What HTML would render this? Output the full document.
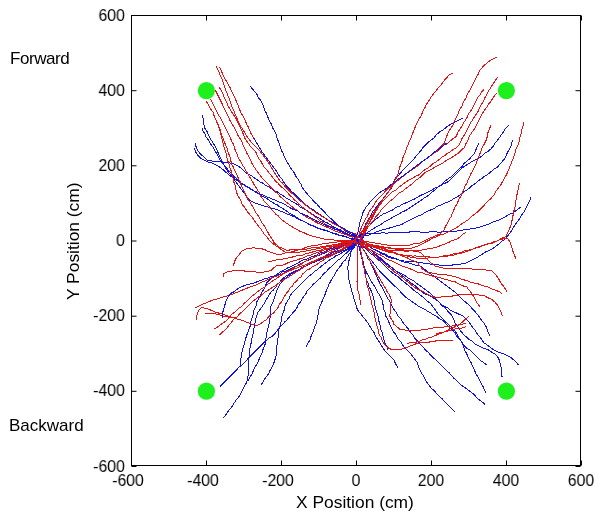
<!DOCTYPE html>
<html><head><meta charset="utf-8"><style>
html,body{margin:0;padding:0;background:#fff;width:601px;height:521px;overflow:hidden}
body{position:relative;font-family:"Liberation Sans",sans-serif;color:#000;-webkit-font-smoothing:antialiased}
.yl,.xl,.t{will-change:transform}
svg{position:absolute;left:0;top:0}
.yl{position:absolute;left:61px;width:64px;text-align:right;font-size:17px;line-height:18px;transform:scaleX(0.94);transform-origin:100% 50%}
.xl{position:absolute;top:471.5px;width:60px;text-align:center;font-size:17px;line-height:18px;transform:scaleX(0.93);transform-origin:50% 50%}
.b{stroke:#1212e0}.r{stroke:#e01212}
.t{position:absolute;white-space:nowrap;font-size:17px;line-height:20px}
</style></head><body>
<svg width="601" height="521" viewBox="0 0 601 521">
<g fill="none" stroke-width="1" shape-rendering="crispEdges">
<polyline class="b" points="253.4,137.6 256.3,142.4 259.2,147.2 262.1,152.0 265.0,155.8 267.8,159.7 270.7,163.5 273.6,167.3 276.5,171.2 279.3,176.0 281.7,178.8 283.5,181.7 285.2,184.6 287.5,186.9 289.8,189.2 291.8,191.8 294.4,193.8 296.7,196.1 299.0,198.4 301.3,200.7 303.6,203.0 308.0,206.5 310.6,208.4 313.5,209.9 316.0,212.0 319.0,214.0 321.9,216.1 325.1,218.0 328.1,220.2 331.7,221.7 334.6,224.0 337.9,225.9 341.2,227.7 344.2,230.0 346.9,231.9 349.6,233.3 352.3,234.4 355.0,235.7 357.1,237.7"/>
<polyline class="r" points="216.5,66.2 217.6,69.5 219.4,72.5 220.2,75.5 221.8,78.2 222.6,81.1 223.7,84.0 224.6,86.9 225.6,89.8 226.9,92.5 227.6,95.5 229.2,98.2 230.0,101.3 231.2,104.7 232.4,108.0 234.1,110.8 235.0,114.0 236.5,116.9 237.5,120.0 239.8,125.0 241.9,128.0 244.8,132.8 247.7,137.6 250.6,141.4 253.4,144.3 256.3,147.2 259.2,150.1 262.1,153.9 265.0,157.8 267.8,161.6 270.7,166.4 273.6,171.2 276.5,176.0 278.4,178.4 280.0,181.0 282.6,183.2 284.6,186.0 287.3,188.7 290.0,191.5 293.0,194.2 296.0,197.0 298.8,199.7 302.0,202.0 304.7,204.2 307.3,206.4 310.0,208.5 313.3,210.7 316.5,213.0 319.9,215.0 322.9,216.8 326.0,218.5 329.0,220.5 331.9,222.7 335.0,224.5 338.3,226.0 341.3,228.1 344.5,229.8 347.8,231.5 351.1,232.5 354.4,233.5 357.5,234.9"/>
<polyline class="b" points="249.8,86.0 252.5,88.9 255.0,92.0 257.1,94.5 258.3,97.5 260.3,100.0 262.1,103.4 263.8,106.9 264.8,110.3 266.5,113.4 267.7,116.7 269.2,120.7 271.5,124.4 272.7,127.9 274.4,131.1 276.3,134.8 277.3,138.8 278.9,142.6 280.1,146.5 281.2,150.0 283.0,153.2 285.0,158.0 287.5,162.7 289.2,165.5 290.9,168.4 294.4,173.0 295.7,176.1 297.8,178.8 299.3,181.7 301.1,184.4 302.2,187.5 304.6,190.7 307.2,193.7 309.1,196.4 311.6,198.6 313.5,201.2 316.9,204.1 319.7,207.5 323.0,210.5 326.0,213.7 329.0,217.1 332.6,220.0 335.8,223.3 339.3,226.2 342.8,227.8 345.9,230.0 349.4,231.6 352.7,233.5 356.1,235.5 359.1,238.0"/>
<polyline class="r" points="219.4,67.2 221.2,70.1 222.3,73.4 223.5,76.4 225.2,79.2 228.0,84.0 229.7,86.8 230.9,89.8 232.3,92.7 233.8,95.5 235.3,98.8 236.7,102.2 238.5,106.0 239.8,110.0 241.1,113.0 242.7,115.8 244.4,118.5 245.6,121.5 246.9,124.5 248.5,127.3 250.6,132.8 253.4,137.6"/>
<polyline class="b" points="195.6,142.5 196.0,146.4 197.5,150.2 200.4,154.0 204.2,157.0 207.1,160.0 210.7,160.9 216.5,161.5 222.2,162.1 228.0,162.7 233.8,163.8 238.4,166.1 241.8,168.7 244.8,171.9 247.8,173.7 250.9,175.4 253.7,177.5 256.7,179.2 259.3,181.5 262.5,183.0 265.3,185.1 268.5,186.5 271.3,188.5 274.0,190.6 277.3,191.9 280.1,194.0 283.1,195.8 285.9,197.9 289.0,199.5 291.9,201.4 295.1,202.9 297.8,205.0 300.5,207.2 303.8,208.5 306.6,210.6 309.7,212.2 312.4,214.5 315.5,216.1 318.5,217.8 321.5,219.6 324.5,221.6 327.8,223.1 330.9,225.0 333.8,227.1 336.8,228.6 340.1,229.8 343.1,231.5 346.2,233.0 349.0,234.3 351.4,235.8 356.0,237.8"/>
<polyline class="r" points="219.4,87.4 222.3,92.6 224.2,97.4 225.7,100.3 227.1,103.2 228.2,106.3 230.0,109.0 233.0,114.0 236.0,118.5 238.5,123.5 239.8,126.2 241.0,129.0 242.3,132.0 243.7,135.0 244.8,138.1 246.5,141.0 248.5,143.3 250.0,146.0 254.1,150.0 256.1,152.7 257.5,155.8 258.9,158.8 261.0,161.5 262.5,164.5 264.4,167.3 266.9,170.0 269.0,173.0 271.5,175.7 273.6,178.8 275.7,181.3 278.2,183.4 280.3,186.0 282.9,188.0 285.4,190.1 287.5,192.6 289.5,195.2 292.1,197.2 294.2,199.7 296.7,201.8 298.9,204.2 301.3,206.4 306.0,210.0 309.0,212.3 312.2,214.4 315.0,217.0 317.7,218.4 319.8,220.8 322.7,222.1 325.3,224.0 328.1,225.7 331.2,226.8 333.8,228.8 336.9,230.0 339.7,231.3 342.8,232.3 345.7,233.5 348.2,234.8 350.7,235.8 353.5,236.2 356.0,237.5"/>
<polyline class="b" points="194.6,148.3 195.6,152.1 198.5,156.0 201.4,158.8 205.2,160.8 208.4,162.0 211.9,163.0 215.3,164.5 218.8,166.5 222.2,169.0 225.7,172.0 229.2,175.3 232.7,177.3 236.0,179.7 238.9,181.6 241.7,183.6 244.8,185.2 247.7,187.1 250.8,188.7 253.7,190.7 256.4,192.9 259.7,194.1 262.5,196.2 265.7,197.7 268.5,199.7 271.3,201.7 274.3,203.5 277.4,205.0 280.1,207.2 283.2,208.8 286.1,210.8 289.0,212.8 291.9,214.7 295.0,216.2 297.8,218.3 300.8,219.7 303.5,221.5 306.6,222.7 309.4,224.6 312.5,225.8 315.5,227.1 318.4,228.4 321.5,229.4 324.6,230.4 327.8,231.2 331.0,232.2 333.9,233.7 337.1,234.0 340.0,235.5 343.2,235.9 346.8,237.0 350.3,238.4 354.1,238.7 357.6,240.2"/>
<polyline class="r" points="215.1,89.8 217.5,94.5 219.9,99.3 222.3,104.1 223.5,107.1 225.0,110.0 226.8,113.5 228.5,117.0 230.1,120.6 232.0,124.0 234.1,127.4 236.0,131.0 237.8,135.1 240.3,138.8 241.9,141.5 242.7,144.5 244.1,147.4 245.6,150.3 246.9,153.3 248.5,156.1 250.4,160.0 251.9,163.4 253.9,166.6 255.9,169.7 258.0,172.6 260.1,175.4 262.2,178.3 264.7,180.8 267.0,182.9 269.0,185.3 271.0,187.7 273.5,189.6 275.5,192.0 278.0,193.9 279.9,196.4 282.3,198.4 285.1,201.2 288.2,203.6 291.2,206.1 294.1,208.4 297.1,210.5 300.0,212.8 302.9,214.7 305.8,216.5 308.8,218.3 311.7,219.3 314.3,221.2 316.9,222.8 319.9,223.8 322.7,225.5 325.6,226.7 328.7,227.8 331.5,229.3 335.3,231.0 339.2,232.3 343.1,233.7 347.0,235.1 350.1,236.5 353.5,237.3"/>
<polyline class="b" points="202.1,115.2 203.0,118.3 203.2,121.5 203.9,125.0 205.0,128.4 207.1,131.7 208.4,135.3 210.1,138.2 211.9,141.1 213.6,143.9 215.3,146.8 217.3,150.6 218.8,154.6 221.1,159.2 223.4,163.8 225.7,168.4 229.2,173.0 232.6,177.6 236.1,182.2 239.5,186.9 243.0,191.5 246.4,196.1 250.0,200.7 253.9,202.5 258.0,204.0 261.3,205.0 264.6,206.1 268.0,207.0 270.9,208.4 274.1,208.8 277.1,209.6 280.0,211.0 283.1,212.1 285.9,213.6 289.1,214.5 292.0,216.0 295.4,217.2 298.3,219.3 301.7,220.6 305.0,222.0 308.3,223.5 311.4,225.3 314.8,226.4 318.0,228.0 321.6,229.4 325.5,230.2 329.1,231.7 332.8,233.0 336.1,234.3 339.5,235.4 342.9,236.3 346.5,237.1 350.5,238.6 354.6,240.3 358.6,241.8"/>
<polyline class="r" points="210.8,99.3 213.2,104.1 215.6,109.0 218.0,114.0 220.0,117.3 221.9,120.7 223.5,124.2 225.5,127.5 226.9,131.1 228.7,134.5 230.4,138.0 231.8,141.6 233.8,144.9 234.6,148.5 236.0,152.0 237.5,155.4 238.9,158.8 241.1,161.9 242.6,165.3 244.5,167.9 245.9,170.8 247.7,173.4 249.2,176.3 251.1,178.9 252.6,181.8 254.1,184.7 255.9,187.4 257.6,190.1 259.3,192.8 260.6,195.8 262.5,198.4 264.4,201.4 266.9,203.9 269.4,206.5 271.3,209.5 273.8,211.4 275.5,214.1 278.2,215.8 280.1,218.3 283.0,220.7 286.0,222.8 289.0,224.9 291.8,226.4 294.4,228.4 297.5,229.5 300.0,231.5 303.8,232.7 307.3,234.4 311.0,235.9 314.4,236.3 317.7,237.8 321.3,238.1 324.7,239.2 328.2,239.2 331.7,239.4 335.1,240.2 338.6,240.4 342.1,240.4 345.6,240.5 349.2,240.4 352.8,240.2 358.4,239.6"/>
<polyline class="b" points="202.1,128.4 203.3,131.4 205.0,134.2 206.3,137.3 208.4,139.9 210.0,142.9 211.9,145.7 213.8,148.4 215.3,151.4 217.6,155.0 220.0,160.0 222.0,162.5 224.0,165.0 226.2,167.3 228.0,170.0 230.8,172.5 233.0,175.5 236.0,178.2 239.0,181.0 242.0,183.7 245.3,186.0 248.8,187.8 252.0,190.0 256.1,191.8 260.0,194.0 263.4,195.2 266.6,196.8 270.0,198.0 273.0,199.3 276.0,200.6 278.9,202.0 282.0,203.0 285.3,204.7 288.4,206.7 291.6,208.6 295.0,210.0 298.0,211.1 300.4,213.1 303.3,214.4 306.3,215.3 309.0,217.0 311.8,218.4 314.5,219.9 317.2,221.5 320.3,222.5 323.2,224.0 326.1,225.3 328.9,226.7 331.9,227.8 334.8,229.2 337.9,230.0 341.1,231.5 344.2,233.1 347.7,234.2 351.4,235.4 355.8,237.0 360.4,238.2"/>
<polyline class="r" points="206.4,101.3 209.0,106.0 210.8,109.3 213.0,112.3 214.0,115.4 215.2,118.5 216.5,121.5 218.5,125.4 220.0,129.5 220.8,132.7 221.9,135.8 223.4,138.8 224.2,142.0 225.7,144.9 226.9,148.0 227.8,151.6 229.2,155.0 230.3,158.2 231.0,161.5 231.9,164.5 233.5,167.3 234.5,170.3 236.0,173.0 237.4,175.8 238.5,178.8 240.1,181.6 241.0,184.6 242.3,187.4 243.5,190.3 244.9,193.2 246.4,196.1 247.8,199.1 249.7,201.8 251.3,204.6 253.6,207.6 254.9,211.1 257.0,214.2 259.3,217.2 260.6,220.7 262.8,223.8 265.0,226.8 266.7,230.1 268.5,233.4 270.2,236.7 272.6,239.6 274.3,243.0 277.4,245.6 280.0,248.7 283.0,250.7 286.0,252.6 289.5,252.7 293.0,252.6 296.5,252.3 300.0,252.0 303.3,251.8 306.4,250.8 309.7,250.6 312.7,249.2 316.0,249.0 319.3,248.2 322.7,247.8 326.0,247.0 329.4,246.8 332.8,246.0 336.5,245.1 340.1,244.0 343.9,243.3 347.8,241.9 351.8,241.0 355.7,239.9 359.8,239.2"/>
<polyline class="b" points="463.0,118.1 460.2,119.6 457.3,121.0 454.3,122.2 451.5,123.9 448.5,125.5 445.8,127.7 443.0,129.9 440.0,131.6 437.7,133.6 435.5,135.7 433.7,138.2 431.0,140.2 428.4,142.2 425.7,144.9 423.0,147.6 420.5,151.1 417.6,154.3 414.9,157.7 412.2,161.1 409.5,163.7 406.9,166.4 404.1,169.0 401.5,171.8 399.1,174.8 396.1,177.2 394.3,180.3 393.4,183.8 392.0,187.1 389.7,190.4 387.0,193.3 384.8,196.7 382.8,199.1 380.8,201.5 378.8,203.9 376.7,206.2 375.3,209.0 373.1,211.1 371.3,214.3 369.6,217.5 367.7,220.7 365.9,223.7 364.5,226.9 363.3,230.2 361.3,233.4 359.0,236.4"/>
<polyline class="r" points="216.0,120.0 218.0,125.0 219.0,128.3 220.3,131.6 221.0,135.0 221.9,138.0 222.4,141.1 223.5,144.0 224.3,148.1 225.8,152.0 226.7,156.0 227.5,160.0 228.9,164.0 230.0,168.0 231.3,171.3 231.9,174.7 233.0,178.0 233.5,181.4 235.0,184.6 235.5,188.0 236.5,192.2 238.0,196.2 239.9,198.9 241.3,201.9 242.6,205.0 245.0,207.8 246.9,211.0 249.2,213.9 251.6,216.7 253.8,219.7 255.9,222.7 258.0,225.7 260.6,228.4 262.5,231.5 264.5,234.6 267.2,237.2 269.1,240.4 272.5,243.2 276.0,246.0 279.4,247.1 282.8,248.4 286.0,250.0 289.5,250.0 293.0,249.9 296.5,249.9 300.0,250.0 303.3,249.4 306.7,249.0 310.0,248.2 313.3,247.7 316.7,247.6 320.2,247.0 323.7,246.5 327.2,245.7 330.7,245.3 334.2,244.4 337.7,244.0 341.2,243.0 344.5,242.2 347.8,242.2 350.9,242.1 354.0,241.9 357.0,241.3"/>
<polyline class="b" points="509.1,124.9 505.3,128.7 503.5,131.7 501.4,134.5 499.6,137.4 497.6,140.2 495.3,142.8 493.7,145.8 491.0,148.8 488.0,151.5 485.2,153.1 482.7,155.1 480.3,157.3 476.6,159.5 472.6,161.1 468.9,163.7 465.0,165.9 462.0,168.1 459.2,170.7 456.5,173.8 453.4,176.5 450.5,179.7 447.1,182.4 443.8,183.7 440.7,185.6 437.5,187.1 434.2,188.5 431.3,190.6 427.9,191.9 424.7,193.6 421.4,195.0 418.3,196.7 415.3,198.7 412.1,200.1 408.8,201.5 405.5,203.0 402.2,204.4 399.2,206.3 395.8,207.5 393.0,209.8 389.6,211.1 386.4,212.7 383.2,214.1 380.3,215.9 378.0,217.7 375.7,219.4 373.7,221.5 371.3,223.1 369.3,225.8 367.1,228.2 364.6,230.3 362.2,234.2 359.1,237.7"/>
<polyline class="r" points="496.6,57.3 493.2,58.9 489.9,60.6 487.0,63.0 484.1,65.4 481.7,68.2 479.3,71.1 478.2,74.1 476.5,76.9 475.3,79.9 473.6,82.6 471.9,86.6 469.8,90.3 467.6,94.0 465.9,98.0 463.6,101.7 462.1,105.7 459.8,109.3 458.2,113.3 456.6,117.3 454.4,121.0 452.9,125.0 450.6,128.7 448.3,132.4 446.7,136.4 445.3,140.2 443.8,144.0 440.6,146.3 437.8,149.0 433.7,153.0 431.1,155.1 428.4,157.0 425.7,159.1 423.0,161.1 420.3,163.1 417.6,165.1 414.9,167.2 412.2,169.1 409.5,171.0 406.9,173.1 404.5,175.5 401.5,177.2 398.6,179.5 396.0,182.0 393.3,184.8 391.0,188.0 388.7,191.7 386.0,195.0 383.5,198.5 381.0,202.0 379.2,204.6 377.8,207.4 376.2,210.0 374.9,212.8 373.4,215.5 371.7,218.0 370.1,220.7 369.0,223.6 367.1,226.0 365.3,228.5 364.0,231.1 362.9,233.8 361.1,236.6 359.6,239.5"/>
<polyline class="b" points="512.9,140.2 511.6,143.0 511.0,146.0 509.1,149.6 507.4,152.7 506.0,156.0 504.3,159.2 502.0,161.7 499.8,164.3 497.6,166.9 494.8,168.5 492.3,170.5 489.9,172.6 487.5,174.7 484.5,176.2 482.2,178.4 479.5,180.1 476.9,182.0 474.5,184.1 471.8,185.8 469.5,188.0 466.9,189.9 464.1,191.5 461.6,193.5 459.2,195.7 455.9,197.4 452.7,199.3 449.6,201.4 446.3,202.5 443.2,204.1 440.0,205.3 436.9,206.6 434.1,208.5 431.0,209.8 427.9,211.1 424.7,212.7 421.7,214.7 418.3,215.9 415.2,217.6 411.9,219.0 408.8,220.7 405.6,222.2 402.5,224.1 399.2,225.5 395.9,225.9 392.8,227.0 389.8,227.9 386.8,228.8 383.7,229.4 380.7,230.3 377.7,231.4 374.6,232.7 371.6,233.9 368.6,235.2 365.5,235.4 362.7,236.5"/>
<polyline class="r" points="497.6,76.9 494.7,81.7 492.7,84.5 490.9,87.4 488.8,90.7 487.0,94.1 484.9,97.8 483.2,101.8 480.9,104.9 479.3,108.5 477.8,112.1 475.5,115.3 473.0,119.0 470.7,122.9 468.6,126.7 466.9,130.6 465.5,133.3 463.8,135.8 462.1,138.3 460.5,142.3 458.2,146.0 455.6,148.1 452.7,149.9 450.1,152.0 447.1,153.6 444.8,155.6 442.1,156.9 439.9,159.0 437.5,160.8 435.1,162.6 432.4,164.1 430.3,166.2 427.9,168.0 424.4,170.0 421.4,172.7 418.3,175.2 415.0,176.6 412.1,178.7 408.8,180.0 405.5,182.3 402.3,184.5 399.2,187.1 396.2,189.8 392.6,191.6 389.6,194.3 387.4,196.9 384.8,199.1 382.4,201.5 380.2,204.5 377.5,207.2 375.2,210.0 373.5,212.4 372.4,215.2 370.1,217.3 368.8,220.0 367.1,223.4 365.2,226.7 363.4,230.0 360.8,232.9 358.4,235.9 355.8,238.8"/>
<polyline class="b" points="531.2,196.6 529.9,200.0 528.3,203.3 526.3,207.1 524.5,211.0 522.5,213.9 520.6,216.8 518.9,219.8 516.8,222.5 514.7,225.3 512.9,228.3 511.2,231.3 509.1,234.0 506.0,237.9"/>
<polyline class="r" points="484.1,89.3 481.3,92.2 479.7,95.3 477.4,98.0 475.7,102.0 473.6,105.7 471.5,109.7 468.8,113.3 467.2,117.3 465.0,121.0 463.2,123.4 461.9,126.2 460.2,128.7 457.9,132.4 456.3,136.4 452.8,138.8 449.5,141.6 447.3,143.7 444.4,144.8 442.1,146.7 439.9,148.8 436.9,151.5 433.3,153.3 430.3,156.0 427.9,157.9 425.5,159.6 422.8,161.1 420.7,163.2 417.7,165.8 414.4,168.0 411.2,170.4 407.8,172.5 404.7,175.0 401.6,177.6 398.4,180.0 394.9,182.0 392.0,184.7 389.4,186.9 387.1,189.4 384.8,191.9 382.4,194.8 379.5,197.2 377.0,200.0 375.3,202.5 373.8,205.2 372.3,207.7 370.3,210.0 368.5,213.3 367.0,216.8 364.9,220.0 363.5,223.4 361.8,226.6 360.4,230.0 359.3,233.5 358.4,237.0 357.1,240.3"/>
<polyline class="b" points="520.6,207.2 518.0,209.0 515.5,211.1 512.9,212.9 509.0,214.6 505.3,216.8 501.4,218.7 497.6,220.6 494.2,221.5 491.0,222.8 488.0,224.5 484.7,225.2 481.7,226.6 478.4,227.3 475.3,228.3 471.9,228.3 468.8,229.3 465.6,229.5 462.4,230.1 459.2,230.6 456.0,231.1 452.8,231.5 449.6,231.7 446.4,231.7 443.2,231.9 440.0,232.1 436.7,232.0 433.3,231.9 430.0,231.8 426.7,232.3 423.3,232.2 420.0,232.0 416.7,231.7 413.3,231.8 410.0,231.9 406.7,232.7 403.3,232.8 400.0,232.5 396.7,232.8 393.4,232.7 390.3,232.6 387.1,233.2 383.9,232.9 380.8,233.0 377.9,233.5 375.1,233.6 372.2,233.1 369.3,233.4 366.4,233.4 363.5,234.0 360.6,234.9 357.6,235.5"/>
<polyline class="r" points="496.6,93.2 494.7,95.6 492.8,98.0 491.1,101.0 488.9,103.7 487.1,106.7 485.1,109.5 483.3,112.0 481.6,114.5 480.3,117.2 478.7,121.2 476.5,124.9 474.4,128.9 471.7,132.5 469.5,136.2 467.8,140.2 465.8,144.0 464.0,147.9 461.5,149.8 459.5,152.2 457.0,154.0 454.4,155.7 451.8,157.5 449.0,159.0 446.2,160.4 443.7,162.4 441.0,164.0 438.3,165.4 435.5,166.6 433.0,168.5 429.4,170.4 425.7,172.0 423.0,174.6 420.3,177.2 417.7,179.0 415.2,180.8 413.0,183.0 410.4,185.1 407.7,187.1 405.0,189.0 402.6,191.3 399.5,192.7 397.0,195.0 394.9,197.3 392.6,199.3 390.0,201.0 387.6,203.3 385.3,205.7 383.0,208.0 380.9,210.2 379.4,212.8 377.4,215.0 375.3,217.2 374.0,219.9 371.8,222.0 370.2,224.8 368.0,227.2 366.3,230.0 364.7,233.9 362.6,237.5 360.3,240.7"/>
<polyline class="b" points="447.0,142.8 442.3,146.4 440.0,148.3 437.4,149.8 435.0,151.7 432.7,153.6 429.6,156.2 426.5,158.7 423.1,160.8 420.0,163.3 416.6,165.4 413.6,168.0 411.3,169.9 409.0,171.9 406.3,173.2 404.0,175.2 401.6,177.0 399.0,178.5 396.6,180.3 394.4,182.4 391.0,184.5 388.0,187.2 384.8,189.5 381.0,191.7 377.6,194.3 375.3,196.8 372.9,199.2 370.4,201.5 368.2,204.8 365.6,207.7 363.7,211.1 362.3,214.0 361.8,217.2 360.7,220.1 359.5,223.1 359.2,226.1 358.7,229.1 357.9,232.1 357.0,235.2"/>
<polyline class="r" points="452.5,73.0 448.5,75.5 446.6,77.9 444.5,80.2 442.0,83.7 439.1,86.9 436.4,90.2 433.7,93.6 431.7,96.1 430.1,98.9 428.4,101.6 426.3,104.6 424.8,107.9 423.0,111.1 421.3,115.2 419.0,119.1 417.4,121.9 416.0,124.8 414.9,127.8 413.7,131.1 412.2,134.2 410.9,138.4 408.9,142.2 407.8,145.3 406.6,148.5 405.5,151.6 404.3,154.7 402.9,157.8 402.2,161.1 400.9,164.2 399.7,167.3 398.8,170.5 397.8,174.6 396.1,178.5 394.3,181.3 392.3,184.1 390.8,187.1 389.1,190.5 387.1,193.7 384.8,196.7 382.6,199.8 380.5,202.9 378.8,206.3 377.3,209.7 375.0,212.6 373.3,215.9 371.8,219.3 369.5,222.2 367.9,225.5 366.0,228.6 364.5,232.2 362.5,235.7 360.5,238.8 358.1,241.5"/>
<polyline class="b" points="223.2,417.8 225.8,414.9 227.9,411.7 230.3,408.7 232.2,406.3 233.7,403.6 235.4,401.1 237.3,398.7 239.7,395.6 241.5,392.0 243.4,388.6 244.7,385.9 246.1,383.2 247.4,380.5 247.9,377.2 248.3,373.8 248.4,370.4 248.8,367.0 248.3,363.7 248.4,360.3 249.0,357.0 249.2,353.6 249.4,350.3 250.4,347.0 251.0,343.6 251.4,340.2 252.4,336.9 253.1,333.5 253.4,330.1 254.5,326.8 254.9,323.4 255.5,320.0 256.8,316.0 258.0,312.0 260.5,309.0 262.7,305.7 264.5,303.2 265.8,300.4 267.4,297.7 269.0,295.1 270.9,292.3 273.4,290.0 275.6,287.5 277.4,284.6 279.4,282.4 281.4,280.1 283.6,278.0 285.9,276.1 289.2,274.2 292.5,272.2 296.0,270.5 299.5,269.4 302.5,267.1 306.0,266.0 309.3,264.3 312.5,262.7 316.0,261.5 319.4,260.1 322.9,258.7 326.3,257.0 329.7,255.4 333.2,254.0 336.8,253.0 341.0,251.5 345.2,250.0 349.0,248.0 353.0,245.7 356.8,243.2 359.9,240.3"/>
<polyline class="r" points="523.5,122.0 523.0,126.4 521.6,130.6 521.0,134.5 519.7,138.3 519.0,142.2 517.7,146.0 515.8,149.6 515.1,152.9 514.1,156.1 512.9,159.2 511.5,162.3 510.3,165.6 509.1,168.8 507.7,172.1 506.2,175.3 504.3,178.4 502.5,181.7 500.7,185.0 498.5,188.0 496.1,191.1 494.2,194.5 491.8,197.6 489.2,200.1 486.5,202.5 484.1,205.3 481.6,207.8 479.2,210.5 476.5,212.9 473.9,214.6 471.5,216.5 469.4,218.8 466.9,220.6 463.7,222.8 460.3,224.7 457.3,227.3 454.1,228.9 451.0,230.7 447.7,232.1 444.4,234.0 440.6,234.7 437.3,236.6 434.3,237.5 431.5,238.9 428.7,240.4 425.8,241.8 422.9,243.5 420.0,245.2 416.0,246.6 412.1,248.1 408.2,248.5 404.3,248.0 400.5,248.6 396.7,248.3 392.9,248.5 389.3,248.1 385.6,247.9 382.0,246.9 378.4,246.3 374.7,245.8 371.1,244.9 367.6,244.5 365.3,242.6 362.8,241.1 360.2,239.6"/>
<polyline class="b" points="240.3,366.4 240.3,363.0 240.7,359.6 241.3,356.3 241.8,352.9 242.5,349.5 243.4,346.2 244.7,342.9 245.4,339.5 246.4,336.1 248.0,332.1 249.4,328.1 250.7,324.8 250.9,321.3 252.0,318.0 253.0,314.7 253.7,311.2 255.0,308.0 256.4,305.1 256.8,301.8 258.4,299.0 260.5,295.6 262.0,292.0 263.9,289.0 265.5,285.8 266.9,282.5 269.3,280.1 272.0,278.1 274.9,276.3 277.4,274.0 279.9,272.1 282.7,270.8 285.3,269.3 288.0,267.7 291.4,266.5 294.4,264.6 297.7,263.2 300.7,261.3 303.8,259.8 307.1,258.9 310.1,257.3 313.3,256.1 316.6,255.1 319.6,253.1 323.2,252.4 326.4,250.8 329.7,249.2 333.1,248.2 336.5,246.8 339.8,245.5 343.4,243.8 347.2,243.1 350.7,241.7 354.1,241.2 357.6,241.0"/>
<polyline class="r" points="490.9,124.9 489.6,128.8 488.0,132.5 487.4,136.4 486.1,140.2 484.3,144.0 482.2,147.7 480.8,151.6 479.3,155.4 477.7,159.1 476.5,163.0 474.7,166.9 472.6,170.7 470.5,174.5 468.8,178.4 467.2,182.4 465.0,186.1 463.8,189.3 462.4,192.5 461.1,195.7 458.8,199.3 457.3,203.3 455.4,206.4 454.0,209.6 452.5,212.9 451.3,216.3 449.4,219.3 447.7,222.5 445.6,226.3 443.8,230.2 440.0,234.0 435.0,236.0 432.2,237.4 429.2,238.3 426.1,239.8 423.1,241.4 420.0,242.9 416.8,244.0 413.2,243.9 410.0,245.0 406.6,245.1 403.4,245.9 400.0,246.0 396.7,245.7 393.4,245.9 390.3,245.5 387.1,245.1 384.0,244.5 380.8,244.0 377.9,243.7 375.1,243.1 372.2,242.6 369.4,242.0 366.2,241.3 362.8,241.2 359.5,240.7 356.3,240.0"/>
<polyline class="b" points="248.4,380.5 250.4,376.5 252.3,373.2 253.7,369.7 255.5,366.4 257.5,363.2 258.9,359.7 260.5,356.3 262.0,353.0 263.0,349.5 264.5,346.2 265.5,342.9 265.5,339.4 266.6,336.1 266.9,332.7 267.6,329.4 268.6,326.1 269.5,322.1 270.0,318.0 270.5,314.9 270.3,311.8 270.7,308.8 271.1,305.7 272.8,302.3 274.0,298.7 275.3,295.1 276.4,291.5 277.9,288.0 279.6,284.6 282.2,281.5 285.0,278.7 288.0,276.1 290.6,274.5 293.1,272.6 296.1,271.7 298.6,269.8 301.7,268.1 304.9,266.6 308.1,265.1 311.2,263.4 314.5,262.0 317.7,260.5 320.7,258.6 324.1,257.1 327.4,255.4 330.8,253.9 333.9,252.0 337.5,250.8 341.9,249.3 346.3,248.0 349.2,246.8 351.7,245.3 354.5,243.8 356.9,241.6"/>
<polyline class="r" points="519.7,183.2 518.4,187.4 517.7,191.8 516.9,195.0 516.3,198.2 515.8,201.4 515.6,204.7 514.7,207.8 513.9,211.0 513.4,214.2 512.5,217.4 512.0,220.6 511.4,223.9 510.2,227.0 509.1,230.2 507.3,233.5 505.6,236.8 502.7,237.9 500.0,239.3 497.3,240.8 494.6,242.3 491.7,243.5 488.5,243.9 485.4,244.7 482.5,245.9 479.5,247.0 476.4,247.8 473.4,248.7 470.4,249.9 467.2,250.3 464.1,251.0 461.2,252.3 458.2,253.2 455.1,253.6 452.0,254.1 449.1,255.3 445.9,255.3 442.9,256.2 439.9,256.9 436.9,257.2 433.8,257.3 430.8,257.1 427.8,256.8 424.7,256.7 421.7,256.9 418.6,256.8 415.6,255.9 412.5,256.1 409.5,255.7 406.4,255.7 403.4,255.1 400.5,254.1 397.3,254.2 394.4,252.9 391.4,252.6 388.5,252.0 385.6,251.4 382.8,250.1 379.8,249.2 377.2,247.4 374.3,246.1 371.4,245.1 368.4,244.1 365.4,242.7 362.2,241.9 359.3,240.3"/>
<polyline class="b" points="260.5,385.5 262.8,382.7 264.4,379.4 266.6,376.5 268.9,373.3 270.4,369.6 272.6,366.4 273.7,363.4 274.9,360.4 275.3,357.2 276.6,354.3 276.9,351.3 276.8,348.2 277.0,345.2 277.7,342.2 277.7,339.2 278.6,336.2 278.8,333.2 278.7,330.1 279.8,327.1 280.7,324.0 281.2,320.0 282.0,316.0 283.1,312.9 284.2,309.9 284.8,306.7 285.9,303.6 287.5,301.0 289.3,298.4 290.3,295.4 292.2,293.0 294.8,290.0 297.8,287.4 300.7,284.6 303.3,281.5 306.2,278.9 309.1,276.1 311.8,274.0 314.2,271.7 317.1,269.8 319.7,267.7 322.2,265.4 325.0,263.5 327.7,261.2 330.6,259.2 333.5,257.7 336.0,255.7 339.1,254.6 341.8,252.9 345.5,250.7 349.4,249.0 352.8,247.1 355.7,244.6 360.6,240.3"/>
<polyline class="r" points="195.5,307.6 198.4,306.3 201.2,304.8 204.1,303.6 207.0,302.5 209.8,301.3 212.7,300.2 215.6,299.4 218.5,298.4 224.2,296.7 227.1,296.0 230.0,295.0 233.0,294.1 235.8,292.7 238.7,291.8 241.5,290.4 244.4,289.2 247.3,288.1 252.0,286.3 255.0,285.4 257.9,284.0 260.6,282.5 264.2,281.4 267.6,279.6 271.1,278.2 274.6,276.7 278.2,275.5 281.7,274.0 285.3,272.9 288.7,271.2 292.2,269.8 295.7,268.4 299.2,266.9 302.8,265.6 306.4,264.5 309.7,262.6 313.3,261.3 316.7,259.5 320.4,258.7 324.1,257.1 327.9,256.0 331.6,254.5 335.2,252.9 339.0,251.2 342.7,249.6 346.3,247.6 349.3,245.6 352.6,244.0 355.6,241.9 359.0,240.4"/>
<polyline class="b" points="220.2,386.6 222.6,383.7 225.5,381.2 228.2,378.5 230.9,375.8 233.5,373.0 236.3,370.4 238.7,367.4 241.8,365.2 244.4,362.4 247.1,359.7 249.6,356.8 252.4,354.3 255.0,351.5 257.7,348.8 260.5,346.2 263.4,343.0 266.6,340.2 269.4,337.8 272.6,336.1 274.9,333.7 277.0,331.0 278.7,328.1 281.8,325.2 284.7,322.0 287.6,319.2 290.1,316.0 292.7,312.9 295.4,309.9 297.2,307.4 298.3,304.5 300.3,302.1 301.7,299.3 303.6,296.7 305.7,294.3 307.0,291.2 309.1,288.8 311.4,286.9 313.1,284.3 315.5,282.4 317.6,280.3 320.7,277.8 322.9,274.4 326.0,271.9 328.0,269.6 330.2,267.5 332.5,265.4 334.9,263.4 337.6,260.3 341.2,258.1 343.9,255.0 346.8,252.7 349.4,250.0 352.1,247.4 354.9,244.9 359.3,240.8"/>
<polyline class="r" points="196.0,320.3 197.2,314.5 198.9,310.0 201.2,307.6 205.8,308.2 208.7,309.2 211.6,310.5 214.4,311.7 217.3,312.8 220.3,313.3 223.1,314.5 226.2,315.3 228.9,316.9 234.6,318.0 237.4,319.2 240.4,319.7 243.3,320.7 246.1,322.0 249.1,323.1 252.0,324.3 255.0,325.0 258.0,325.0 260.9,323.7 263.3,321.6 266.0,320.0 268.3,317.3 270.9,314.9 273.8,312.8 276.0,310.0 278.1,307.4 279.3,304.4 281.5,301.9 282.9,298.9 284.7,296.2 286.3,293.3 288.5,290.9 290.0,288.0 292.5,286.0 294.1,283.2 296.5,281.2 298.4,278.7 301.0,276.8 302.6,274.0 305.0,272.0 307.3,270.0 310.1,268.8 312.4,266.9 315.2,265.6 317.7,263.9 320.0,262.0 323.2,260.4 326.1,258.1 329.5,256.8 332.8,255.1 335.8,253.0 338.7,251.2 341.4,249.2 344.4,247.5 347.5,246.1 351.5,244.5 355.7,243.4 359.7,241.8"/>
<polyline class="b" points="305.9,347.2 307.7,343.6 309.9,340.2 311.1,336.1 312.9,332.1 314.2,328.0 316.0,324.0 317.0,320.0 317.7,316.7 318.3,313.3 318.6,309.9 319.9,306.3 321.5,302.9 322.8,299.3 324.6,295.9 325.7,292.3 327.1,288.8 328.6,285.2 330.4,281.7 332.3,278.2 334.2,275.8 335.7,273.0 337.1,270.2 339.1,267.7 341.2,265.1 342.8,262.2 345.5,260.0 347.1,257.1 349.2,254.0 351.4,251.0 353.5,248.2 355.7,245.4 358.8,241.6"/>
<polyline class="r" points="204.7,313.4 208.1,313.7 211.6,314.0 215.1,313.8 218.5,314.5 221.9,315.8 225.4,316.9 231.2,316.9"/>
<polyline class="b" points="222.0,318.0 222.4,314.5 223.1,311.1 224.2,307.6 225.4,303.0 226.5,299.9 228.0,297.0 230.0,293.8 233.0,292.3 235.8,290.4 238.5,288.3 241.5,286.9 244.3,285.6 247.3,284.6 252.0,283.5 255.4,282.6 258.6,281.0 262.0,280.0 264.9,278.8 268.0,278.0 270.9,276.7 274.0,276.0 276.9,275.1 279.8,274.0 282.2,272.0 285.2,271.2 288.0,270.0 290.9,268.8 293.6,267.1 296.6,266.1 299.2,264.4 302.0,263.0 304.9,261.3 308.0,260.2 311.1,258.9 313.9,257.3 317.0,256.0 319.9,254.9 322.9,253.8 325.8,252.4 328.7,251.2 331.7,250.0 335.2,249.0 338.6,247.7 341.9,246.3 345.4,245.0 348.8,244.5 351.9,243.1 355.5,242.9 358.7,242.0"/>
<polyline class="r" points="223.7,277.1 223.7,273.7 227.1,272.0 231.0,271.1 234.9,270.7 238.4,270.9 241.8,270.7 245.3,271.1 248.7,271.3 252.1,271.9 255.6,272.0 259.9,272.3 264.3,272.0 267.8,271.4 271.2,270.2 273.6,267.9 276.4,265.9 281.7,265.6 285.2,264.2 288.6,262.5 292.2,261.3 295.8,260.3 299.3,259.1 302.8,258.0 306.2,256.3 309.8,255.4 313.3,254.0 316.9,252.8 320.5,251.4 324.2,250.0 328.1,249.0 331.6,247.1 335.4,246.0 339.0,244.7 342.6,243.6 346.5,243.0 350.9,241.7 355.2,240.4 359.6,239.1"/>
<polyline class="b" points="357.4,241.6 360.0,243.2 362.5,244.7 364.7,246.7 367.4,248.1 370.3,249.5 372.8,251.5 375.3,254.1 378.2,256.1 380.8,258.4 383.6,260.7 386.2,263.0 389.0,265.3 391.7,267.8 394.8,269.9 397.8,272.1 400.5,274.6 403.6,276.7 406.3,279.2 409.3,281.4 412.1,283.8 415.2,285.8 417.8,288.4 420.8,290.6 423.6,293.0 426.8,294.6 430.0,296.0 433.0,297.7 436.0,299.3 438.7,301.7 441.1,304.5 443.7,307.0 446.5,309.3 448.6,312.3 451.4,314.7 452.9,317.6 454.1,320.6 455.2,323.7 457.4,326.1 458.9,328.9 461.0,331.4 463.3,334.1 465.9,336.6 468.6,339.0 471.4,340.6 473.8,342.8 476.3,344.8 480.2,346.6 484.0,348.6 486.9,349.3 489.7,350.5 492.4,352.8 495.5,354.4 497.7,357.0 499.3,360.1 500.3,363.9 501.3,367.8 501.4,371.0 501.5,374.2 502.2,377.4"/>
<polyline class="r" points="233.2,265.9 234.9,260.7 236.4,257.9 238.4,255.5 241.8,251.2 247.0,248.6 250.4,248.2 253.9,247.8 257.3,248.4 260.8,248.6 264.4,249.5 267.7,251.2 271.2,252.3 274.6,253.8 278.1,254.3 281.7,254.0 285.1,253.0 288.7,252.4 292.2,251.8 295.7,250.6 299.2,249.7 302.8,248.7 306.2,247.3 309.7,246.2 313.3,245.5 316.9,245.2 320.6,244.3 324.3,243.4 328.0,243.2 331.7,242.4 335.4,242.3 339.1,241.7 342.8,241.7 346.3,241.3 349.4,240.6 352.5,240.3 355.6,239.8"/>
<polyline class="b" points="356.5,240.7 359.0,243.5 362.1,245.6 364.9,248.1 367.3,250.4 369.8,253.0 372.9,255.0 375.4,257.4 378.0,259.6 380.9,261.7 383.2,264.5 386.1,267.1 389.0,269.9 391.8,272.4 394.8,274.6 397.9,276.6 400.5,279.2 403.5,281.4 406.3,283.8 409.1,286.2 412.1,288.4 414.7,291.0 417.8,293.0 420.6,295.4 423.6,297.6 426.6,300.6 430.0,303.0 432.0,305.6 434.1,308.2 436.0,310.9 437.7,313.6 439.8,316.0 442.4,318.5 444.8,321.3 447.5,323.7 450.2,326.1 452.7,328.7 455.2,331.4 457.4,334.5 459.0,337.8 461.0,341.0 462.5,344.1 463.8,347.2 464.8,350.5 466.6,353.6 468.0,356.9 469.6,360.1 471.4,363.2 472.8,366.5 474.4,369.7 475.6,373.1 477.5,376.2 479.2,379.3 480.5,382.6 482.6,385.6 484.0,388.9 485.9,392.8"/>
<polyline class="r" points="268.0,262.0 271.1,261.3 274.6,260.5 278.1,259.5 281.7,259.2 285.2,258.7 288.7,257.7 292.2,257.1 295.7,256.2 299.2,255.3 302.8,255.0 306.2,253.7 309.7,252.7 313.3,251.8 316.8,250.7 320.6,250.1 324.2,248.7 328.0,248.2 331.6,247.1 335.4,246.6 339.0,245.7 342.7,244.8 346.4,244.4 349.7,243.7 352.6,242.1 355.8,241.1"/>
<polyline class="b" points="356.1,239.0 359.2,241.1 362.3,242.9 365.4,244.9 368.8,246.0 371.2,248.0 373.8,249.2 376.4,250.6 379.0,251.6 381.3,253.6 384.1,254.5 386.5,256.2 389.1,257.3 392.8,258.4 396.8,259.2 400.5,260.7 404.4,261.0 408.3,261.3 412.1,262.0 416.1,261.8 420.0,262.5 425.8,263.6 431.5,264.2 437.3,264.8 443.0,265.4 448.8,265.4 454.5,264.8 460.3,264.2 466.1,263.1 468.8,261.4 471.8,260.2 475.3,258.5 478.7,256.4 482.1,254.2 485.1,252.2 488.4,250.8 491.7,249.4 494.2,247.4 496.8,245.6 499.3,243.7 501.5,241.5 504.1,239.8 506.0,237.9"/>
<polyline class="r" points="214.1,329.1 217.3,327.2 220.2,325.0 223.1,322.8 226.2,321.0 228.3,318.5 230.0,315.7 233.0,313.5 235.8,311.1 238.5,308.6 241.5,306.5 244.2,303.4 247.3,300.7 249.5,298.3 252.0,296.1 254.8,294.2 257.3,292.0 260.0,290.0 262.4,288.2 265.2,286.8 267.4,284.5 270.0,283.0 272.9,280.8 275.9,278.9 278.9,276.8 282.0,275.0 284.4,273.0 287.0,271.4 289.9,270.3 292.4,268.7 295.0,267.0 298.1,265.6 301.2,264.2 303.9,262.0 307.1,260.7 310.0,259.0 313.2,257.9 315.9,256.0 319.1,255.0 322.2,253.5 325.3,252.0 328.7,251.2 331.8,249.9 334.7,248.2 338.0,247.3 341.1,246.0 344.4,244.5 347.8,243.8 351.0,242.9 354.1,241.9 357.5,241.5"/>
<polyline class="b" points="356.0,240.8 359.7,242.4 363.3,244.0 366.9,245.8 370.1,247.2 373.1,249.0 376.2,250.1 379.2,251.7 382.2,253.2 385.3,254.3 388.2,256.0 391.2,257.3 394.5,258.2 397.7,259.3 400.8,260.7 404.0,262.0 407.2,262.7 410.5,263.3 413.6,264.5 416.8,265.4 420.0,266.0 424.6,269.4 429.2,272.9 433.8,276.3 438.4,279.8 443.0,283.2 447.6,286.7 452.2,290.1 456.9,293.6 459.2,296.0 461.7,298.4 464.1,300.9 466.7,303.2 469.6,305.5 471.9,308.3 474.4,310.9 476.4,313.4 478.5,315.7 480.1,318.5 482.1,321.0 484.3,323.4 485.9,326.2 487.2,329.5 488.4,332.8 489.7,336.0"/>
<polyline class="r" points="219.2,335.1 221.5,333.1 223.8,331.0 226.2,329.1 228.5,325.7 231.2,322.6 233.7,319.4 236.9,316.9 239.7,313.9 242.7,311.1 245.8,308.4 248.4,305.3 252.0,301.9 254.7,300.0 257.2,297.8 260.0,296.0 262.6,294.4 264.8,292.3 267.5,290.7 270.0,289.0 273.1,287.1 276.2,285.3 278.9,282.9 282.0,281.0 284.8,279.3 287.8,277.7 290.5,275.8 293.3,273.9 296.0,272.0 299.1,270.3 302.0,268.3 305.0,266.5 307.9,264.6 311.0,263.0 314.1,261.7 317.2,260.1 319.9,258.1 323.3,256.9 326.3,255.0 329.3,253.0 332.5,251.5 335.8,250.2 338.9,248.4 342.2,247.0 345.3,245.5 348.7,244.9 351.6,243.2 354.9,242.3 358.2,241.5"/>
<polyline class="b" points="359.2,243.2 361.7,244.7 363.6,246.6 366.0,247.9 368.7,249.6 371.1,252.0 373.4,253.9 375.8,255.6 378.3,257.3 380.5,259.3 382.7,261.3 385.1,263.0 387.5,264.7 389.9,266.4 392.5,268.0 394.8,269.9 397.3,271.7 400.0,273.0 403.1,274.6 406.1,276.4 408.8,278.6 412.0,280.0 414.8,281.7 417.2,283.8 420.0,285.5 424.6,289.0 429.2,292.4 432.7,296.0 435.0,298.5 437.5,300.8 440.0,303.0 442.3,305.1 444.8,306.7 447.7,308.0 450.0,310.0 453.2,311.6 456.5,313.0 459.7,314.6 462.9,316.0 465.8,318.8 468.6,321.8 470.7,324.2 472.3,327.0 474.4,329.4 476.3,332.3 478.2,335.2 480.3,337.6 482.2,340.2 484.0,342.9 486.7,344.7 489.3,346.5 491.7,348.6 495.5,350.6 499.3,352.5 503.3,353.6 507.0,355.3 510.1,356.9 512.8,359.2 515.9,361.8 518.5,364.9"/>
<polyline class="r" points="356.9,240.7 360.6,242.1 363.8,244.4 367.4,246.0 371.1,246.5 374.7,247.7 378.3,248.6 381.9,249.8 385.6,250.5 389.3,251.5 392.1,252.1 394.7,253.6 397.5,254.4 400.5,255.0 404.5,255.4 408.3,256.5 412.1,257.5 416.0,258.0 420.0,258.5 423.8,258.6 427.7,258.0 431.5,257.9 435.4,257.7 439.1,256.9 443.0,256.7 446.9,256.3 450.6,255.4 454.5,255.0 457.4,254.0 460.4,253.5 463.3,252.7 466.1,251.5 469.7,250.5 473.1,249.0 476.5,247.6 480.0,246.4 483.5,245.4 486.8,244.2 490.3,243.2 493.6,241.8 496.9,241.1 499.9,239.5 503.2,238.9 507.0,237.9 509.9,241.8 511.0,244.6 511.8,247.5 512.6,250.4 513.7,253.3 514.9,256.1 515.7,259.0"/>
<polyline class="b" points="357.3,241.5 358.4,244.1 359.4,246.6 359.7,249.4 360.2,252.1 361.2,255.0 361.6,258.5 363.2,261.6 363.7,265.0 364.9,268.7 366.3,272.2 368.0,275.1 369.5,278.0 371.1,281.0 372.9,283.8 374.7,286.6 376.4,289.5 377.8,292.6 379.8,295.3 382.1,300.0 382.4,303.3 383.9,306.3 384.0,309.6 385.2,312.7 385.6,316.0 387.5,319.0 388.9,322.3 390.1,325.6 391.9,328.7 393.1,331.6 395.3,333.8 396.8,336.5 398.2,339.2 400.7,341.8 402.4,344.9 404.6,347.7 407.8,350.8 410.9,354.0 413.1,356.8 415.2,359.6 417.2,362.5 418.4,366.1 419.8,369.6 421.5,373.0 423.2,375.6 424.7,378.3 426.1,381.0 427.8,383.6 429.7,386.1 431.6,388.5 434.0,390.4 436.0,392.8 438.8,395.8 441.8,398.5 444.6,401.4 447.5,404.3 450.2,407.3 453.3,410.0 455.2,412.0"/>
<polyline class="r" points="360.3,238.6 362.9,240.1 365.3,241.8 367.7,243.9 370.9,244.3 374.0,245.6 377.5,245.7 380.8,246.5 383.6,247.0 386.5,247.2 389.3,247.8 392.2,248.1 395.0,249.0 398.2,249.4 401.5,249.4 404.7,250.2 408.0,250.5 411.0,250.7 414.0,251.1 417.0,251.7 420.0,252.1 423.5,255.6 426.9,259.0 430.4,262.5 435.0,265.9 439.6,267.1 442.6,267.9 445.6,269.0 448.8,268.7 452.0,268.3 455.2,268.6 458.4,268.2 461.6,269.0 464.8,268.6 468.0,268.8 471.2,268.9 474.4,269.6 477.6,269.3 480.8,269.6 484.0,269.6 487.8,270.5 491.7,270.5 495.5,274.4 497.6,277.1 499.3,280.1 501.0,283.2 503.2,285.9 505.1,288.8 507.0,291.7"/>
<polyline class="b" points="356.4,238.9 357.6,242.2 358.3,245.6 359.8,248.7 361.1,251.9 361.3,255.0 362.1,258.0 362.8,261.4 363.6,264.7 364.5,268.0 365.2,271.3 365.2,274.7 366.0,278.0 366.8,281.0 368.3,283.8 369.0,286.8 370.6,289.5 371.8,292.4 372.9,295.3 374.1,300.0 374.4,303.4 375.2,306.7 376.0,310.0 377.1,313.3 378.1,316.6 378.5,320.0 379.6,323.3 380.5,326.6 381.0,330.0 382.4,333.2 383.1,336.6 384.0,340.0 385.1,343.4 386.8,346.6 388.0,350.0"/>
<polyline class="r" points="356.8,241.9 360.3,243.0 363.9,243.6 367.3,245.0 370.8,245.4 373.9,246.6 377.4,246.4 380.6,247.5 383.9,248.1 386.5,249.5 389.2,250.6 392.0,251.7 394.8,252.7 397.7,253.8 400.4,255.3 403.3,256.4 406.3,257.3 409.1,258.9 411.9,260.5 415.1,261.3 417.8,263.0 420.0,266.0 422.6,269.1 425.8,271.7 431.5,272.9 437.3,274.0 443.0,274.6 448.8,275.2 454.5,276.5 458.0,277.6 461.3,279.1 464.8,280.1 468.1,280.9 471.1,282.4 474.4,283.0 477.7,283.6 480.8,285.0 484.0,285.9 487.9,287.1 491.7,288.8 495.5,290.2 499.3,291.7 502.2,293.6"/>
<polyline class="b" points="358.4,239.1 356.2,242.8 353.6,246.3 351.4,250.0 350.4,253.5 350.0,257.1 349.0,260.6 348.5,264.2 347.6,267.7 348.2,271.4 348.0,275.2 348.9,278.8 349.2,282.5 350.4,285.3 351.1,288.3 351.6,291.4 352.9,294.2 353.5,297.2 354.3,300.5 355.6,303.8 356.5,307.1 357.7,310.3 360.2,313.0 362.3,316.0 364.7,318.6 366.8,321.4 368.7,324.4 370.4,327.0 371.9,329.7 373.8,332.1 375.0,335.0 376.6,337.7 378.2,340.3 379.9,342.9 381.3,345.6 383.4,348.4 385.2,351.4 387.7,354.0 391.0,357.0 394.0,360.3 395.8,364.2 398.2,367.7"/>
<polyline class="r" points="355.8,241.7 359.1,243.3 362.2,245.3 365.8,246.5 368.3,248.8 371.1,250.0 374.0,251.5 376.6,253.6 379.8,254.6 382.5,256.3 385.3,258.0 388.0,259.6 391.1,260.5 394.1,262.0 396.9,263.7 400.0,265.0 402.9,266.6 406.1,267.3 409.1,268.3 412.0,269.7 415.0,271.0 418.2,272.4 421.7,272.6 424.9,273.9 428.2,274.7 431.5,275.7 435.3,276.8 439.2,277.4 443.0,278.6 446.8,279.7 450.6,280.9 454.5,281.5 459.0,284.0 462.7,285.8 466.7,286.9 468.5,289.4 470.5,291.7 472.4,294.6 474.4,297.4 475.8,300.3 477.3,303.2 480.1,307.0"/>
<polyline class="b" points="357.4,241.2 359.6,243.8 361.1,246.9 363.3,249.5 365.3,252.2 367.1,255.0 369.1,257.9 371.4,260.5 373.5,263.2 375.8,265.9 377.7,268.8 380.3,271.8 383.3,274.6 386.1,277.5 389.0,280.3 391.9,283.2 394.8,286.1 397.9,288.7 400.5,291.8 403.3,294.8 406.3,297.6 408.9,299.4 411.4,301.3 414.0,303.0 416.6,304.7 419.1,306.7 422.0,308.0 424.8,309.2 427.3,311.0 430.0,312.5 432.9,314.6 436.2,316.0 438.9,318.3 442.0,320.1 444.7,322.3 447.3,325.3 450.0,328.3 453.1,330.8 455.3,333.5 457.1,336.6 459.5,339.2 461.9,341.8 463.5,345.1 466.0,347.7 470.5,350.5 473.1,353.1 475.8,355.5 478.2,358.2 480.9,360.7 483.9,362.8 486.9,365.0"/>
<polyline class="r" points="360.0,241.7 361.8,244.0 363.8,245.9 365.8,247.9 368.4,249.8 371.1,252.0 373.1,254.3 376.0,255.7 377.9,258.3 380.3,260.1 382.9,261.8 385.1,264.0 387.3,266.2 390.0,268.0 392.5,270.0 394.8,272.3 397.7,273.8 400.0,276.0 402.9,278.0 405.5,280.5 408.6,282.3 411.2,284.8 414.0,287.0 416.8,288.8 419.8,290.1 422.9,291.4 425.6,293.4 428.6,294.7 432.2,296.4 436.0,297.4 439.2,297.3 442.4,296.8 445.6,296.5 448.8,296.5 452.0,296.1 455.2,295.5 458.4,294.9 461.6,294.7 464.8,294.5 468.0,294.1 471.2,294.1 474.4,294.5 477.6,294.7 480.8,295.5 484.0,295.5 487.7,297.7 491.7,299.3 494.8,302.0 497.4,305.1 499.6,308.8 501.3,312.8 502.2,315.7"/>
<polyline class="b" points="358.1,240.5 359.7,243.0 360.8,245.7 362.5,248.2 363.7,250.9 365.9,253.1 367.1,256.0 368.1,259.0 370.2,261.5 371.3,264.5 372.5,267.4 374.3,270.0 375.1,272.9 376.7,275.5 377.5,278.5 378.9,281.2 380.0,284.0 381.9,286.5 383.1,289.4 384.6,292.2 386.0,295.0 387.4,297.8 389.2,300.4 390.4,303.3 392.0,306.0 393.9,309.4 396.4,312.5 398.2,316.0 400.6,318.6 402.3,321.7 404.6,324.4 406.7,327.2 409.1,329.9 410.9,332.9 413.3,335.3 414.8,338.4 417.1,340.8 419.3,343.4 421.5,345.4 423.7,347.5 425.4,350.1 427.8,351.9 430.4,354.8 433.1,357.5 436.0,360.1 438.7,362.6 441.3,365.1 443.7,367.8 446.3,370.3 449.1,372.7 451.4,375.5 453.8,378.1 456.5,380.6 459.0,383.2 461.4,385.3 464.2,386.9 466.7,388.9 469.3,390.8 471.8,392.8 474.4,394.7 477.0,397.9 480.1,400.5 482.6,402.3 484.9,404.3"/>
<polyline class="r" points="358.8,239.4 360.2,243.0 362.1,246.3 363.4,249.9 365.3,252.8 367.4,255.5 369.2,258.4 370.5,262.0 372.3,265.3 374.0,268.1 375.4,271.1 376.7,274.2 378.7,276.9 380.3,279.8 382.1,282.6 383.9,285.5 385.6,288.4 387.0,291.4 389.0,294.1 390.2,297.0 391.3,300.0 390.9,304.0 391.0,308.0 390.3,312.0 389.8,316.0 391.2,318.8 393.0,321.4 394.0,324.4 397.2,327.0 400.3,329.7 403.9,329.9 407.4,330.4 410.9,330.8 414.1,330.9 417.2,330.1 420.4,330.1 423.6,329.7 426.8,329.3 429.9,328.4 433.0,328.0 436.2,327.6 439.3,327.0 442.6,327.5 445.7,326.6 448.9,326.6 452.1,326.0 455.2,325.4 458.5,325.2 461.6,324.4 466.0,323.4"/>
<polyline class="b" points="479.0,143.0 477.2,146.3 475.9,149.9 474.5,153.4 471.9,155.9 469.7,158.8 466.9,161.1 464.1,163.4 462.0,166.5 459.2,168.8 456.7,171.5 454.1,174.0 451.5,176.5 448.8,178.2 446.3,180.2 443.8,182.2 441.0,184.9 437.7,187.1 435.0,190.0 431.8,192.0 429.3,195.0 426.0,197.0 422.9,198.9 420.0,201.0 417.0,203.0 414.1,205.1 411.0,207.0 408.0,209.0 405.1,210.8 401.9,212.2 399.0,214.0 396.0,215.6 392.8,217.0 390.0,219.0 387.0,220.3 384.1,221.9 381.5,224.0 378.7,225.7 375.7,227.1 373.0,229.0 370.4,230.6 367.9,232.2 365.8,234.2 363.4,236.7 361.5,239.9"/>
<polyline class="r" points="359.9,241.2 360.5,244.1 360.5,247.2 360.7,250.2 361.2,253.0 361.5,256.0 362.5,258.9 362.9,262.0 363.0,265.3 364.3,268.4 364.7,271.7 365.2,275.0 366.1,278.2 366.6,281.5 367.0,284.8 368.0,288.0 369.1,290.9 369.8,293.9 370.1,297.0 371.0,300.0 371.6,303.0 372.3,306.1 373.5,308.9 374.0,312.0 374.4,315.4 375.1,318.7 376.0,322.0 376.6,325.3 377.9,328.4 378.4,331.7 379.2,335.0 381.2,337.4 382.1,340.5 383.7,343.2 385.6,345.6 388.6,348.0 391.9,349.8 396.1,349.4 400.3,349.8 403.1,348.6 406.0,347.7 408.8,346.6 413.0,345.0 417.2,343.4 420.7,342.7 424.3,343.0 427.8,342.4 430.9,341.7 434.2,341.4 437.3,340.5 440.5,340.3 443.7,340.5 446.9,340.3 450.1,340.5 453.3,341.0"/>
<polyline class="r" points="406.7,343.4 409.9,342.9 413.0,342.2 416.2,342.1 419.3,341.3 422.4,340.0 425.6,339.1 428.7,337.8 432.0,337.1 435.1,335.5 438.3,334.4 441.5,333.2 444.7,331.8 447.9,331.0 451.1,330.6 454.1,329.1 457.4,328.7 461.8,328.0 466.0,326.6"/>
<polyline class="r" points="436.0,334.2 439.1,333.0 442.5,332.7 445.6,331.4 448.5,330.0 451.3,328.4 454.3,327.1 457.1,325.6 459.9,323.9 462.5,322.1 464.8,319.8 468.6,316.6"/>
<polyline class="r" points="356.1,240.6 356.6,244.0 357.5,247.4 357.8,250.8 357.3,254.0 357.4,257.0 357.5,260.0 357.3,263.1 357.8,266.2 357.4,269.3 357.8,272.3 357.7,275.4 357.6,278.5 357.0,281.6 357.4,284.7 357.7,287.8 358.0,291.3 359.3,294.7 359.5,298.2 360.3,301.6 361.0,305.0"/>
<polyline class="r" points="358.7,239.9 362.6,241.2 366.3,243.0 369.9,244.4 373.1,246.0 376.1,247.2 379.3,247.5 382.3,248.4 385.3,249.3 388.3,250.0 391.3,250.5 394.4,250.8 397.6,250.7 400.8,250.8 404.0,251.0 407.2,251.3 410.4,250.7 413.6,250.5 416.8,250.8 420.0,250.5 423.2,249.7 426.4,249.2 429.6,248.6 432.8,248.1 436.0,247.5 439.2,246.1 442.4,244.9 445.6,243.7 448.8,242.4 451.8,240.7 455.2,239.8 458.3,238.2 461.0,236.0 463.3,233.9 466.0,232.5"/>
</g>
<g fill="#1ef01e">
<circle cx="206.4" cy="90.6" r="8.6"/><circle cx="506.4" cy="90.6" r="8.6"/>
<circle cx="206.4" cy="391.2" r="8.6"/><circle cx="506.4" cy="391.2" r="8.6"/>
</g>
<rect x="131.5" y="15.5" width="449" height="450" fill="none" stroke="#000" stroke-width="1"/>
<path d="M131.5,15.5v5M131.5,465.5v-5M206.5,15.5v5M206.5,465.5v-5M281.5,15.5v5M281.5,465.5v-5M356.5,15.5v5M356.5,465.5v-5M431.5,15.5v5M431.5,465.5v-5M506.5,15.5v5M506.5,465.5v-5M581.5,15.5v5M581.5,465.5v-5M131.5,15.5h5M580.5,15.5h-5M131.5,90.7h5M580.5,90.7h-5M131.5,165.8h5M580.5,165.8h-5M131.5,241.0h5M580.5,241.0h-5M131.5,316.2h5M580.5,316.2h-5M131.5,391.3h5M580.5,391.3h-5M131.5,466.5h5M580.5,466.5h-5" stroke="#000" stroke-width="1" fill="none"/>
</svg>
<div class="yl" style="top:6.5px">600</div><div class="yl" style="top:81.7px">400</div><div class="yl" style="top:156.8px">200</div><div class="yl" style="top:232.0px">0</div><div class="yl" style="top:307.2px">-200</div><div class="yl" style="top:382.3px">-400</div><div class="yl" style="top:457.5px">-600</div><div class="xl" style="left:98.0px">-600</div><div class="xl" style="left:173.0px">-400</div><div class="xl" style="left:248.0px">-200</div><div class="xl" style="left:326.0px">0</div><div class="xl" style="left:401.0px">200</div><div class="xl" style="left:476.0px">400</div><div class="xl" style="left:551.0px">600</div>
<div class="t" style="left:10px;top:49px;letter-spacing:-0.45px">Forward</div>
<div class="t" style="left:9px;top:415.5px">Backward</div>
<div class="t" style="left:295.5px;top:491.5px;font-size:17.4px">X Position (cm)</div>
<div class="t" style="left:62.5px;top:299.5px;font-size:17.4px;transform-origin:0 0;transform:rotate(-90deg)">Y Position (cm)</div>
</body></html>
